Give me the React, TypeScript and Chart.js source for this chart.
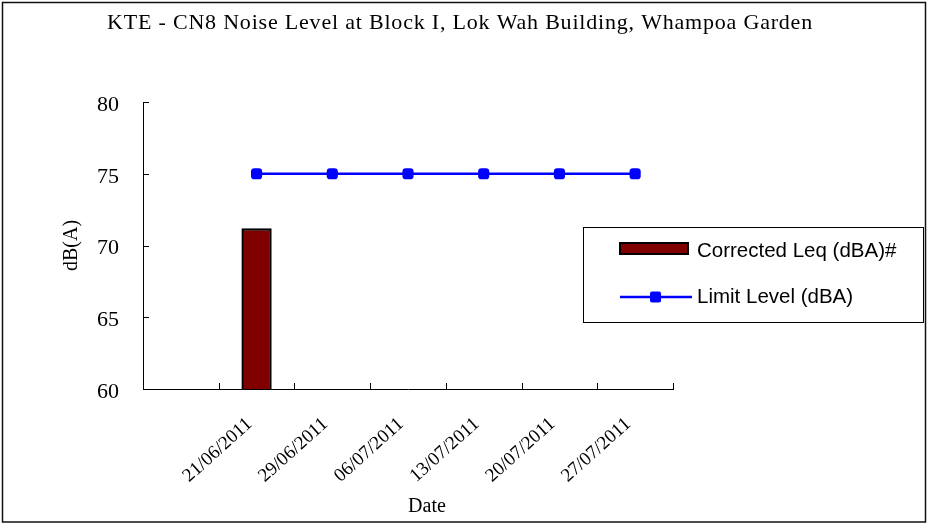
import { useEffect, useRef } from 'react';
import { Chart, registerables } from 'chart.js';

Chart.register(...registerables);

const chartTitle = 'KTE - CN8 Noise Level at Block I, Lok Wah Building, Whampoa Garden';
const categories = ['', '21/06/2011', '29/06/2011', '06/07/2011', '13/07/2011', '20/07/2011', '27/07/2011'];
const correctedLeq: (number | null)[] = [null, 71.2, null, null, null, null, null];
const limitLevel: (number | null)[] = [null, 75, 75, 75, 75, 75, 75];
const yMin = 60;
const yMax = 80;
const yStep = 5;
const yTitle = 'dB(A)';
const xTitle = 'Date';

const SERIF = '"Liberation Serif", "Times New Roman", serif';
const SANS = '"Liberation Sans", Arial, sans-serif';

const decorPlugin = {
  id: 'decor',
  afterDraw(chart: any) {
    const ctx = chart.ctx as CanvasRenderingContext2D;
    const { left, right, bottom } = chart.chartArea;
    const ys = chart.scales.y;
    ctx.save();
    // inside tick marks
    ctx.strokeStyle = '#000';
    ctx.lineWidth = 1;
    ctx.beginPath();
    for (const t of ys.ticks) {
      const y = Math.round(ys.getPixelForValue(t.value)) + 0.5;
      ctx.moveTo(left, y);
      ctx.lineTo(left + 6, y);
    }
    const n = categories.length;
    for (let i = 0; i <= n; i++) {
      const x = Math.round(left + (i * (right - left)) / n) + 0.5;
      ctx.moveTo(x, bottom);
      ctx.lineTo(x, bottom - 6);
    }
    ctx.stroke();

    // chart title
    ctx.fillStyle = '#000';
    ctx.textAlign = 'center';
    ctx.textBaseline = 'alphabetic';
    ctx.font = `22px ${SERIF}`;
    (ctx as any).letterSpacing = '0.8px';
    ctx.fillText(chartTitle, 460, 29);
    // x axis title
    (ctx as any).letterSpacing = '0px';
    ctx.font = `20px ${SERIF}`;
    ctx.fillText(xTitle, 427, 512);

    // legend box
    const ds = chart.data.datasets;
    ctx.lineWidth = 1;
    ctx.strokeStyle = '#000';
    ctx.strokeRect(583.5, 227.5, 340, 95);
    // bar item
    ctx.fillStyle = ds[0].backgroundColor;
    ctx.fillRect(620, 243, 68, 11);
    ctx.lineWidth = 2;
    ctx.strokeStyle = ds[0].borderColor;
    ctx.strokeRect(620, 243, 68, 11);
    // line item
    ctx.strokeStyle = ds[1].borderColor;
    ctx.lineWidth = 2.5;
    ctx.beginPath();
    ctx.moveTo(620, 297);
    ctx.lineTo(692, 297);
    ctx.stroke();
    ctx.fillStyle = ds[1].backgroundColor;
    ctx.beginPath();
    (ctx as any).roundRect(650, 291.5, 11, 11, 2);
    ctx.fill();
    // texts
    ctx.fillStyle = '#000';
    ctx.font = `20.5px ${SANS}`;
    ctx.textBaseline = 'middle';
    ctx.textAlign = 'left';
    ctx.fillText(ds[0].label, 697, 251);
    ctx.fillText(ds[1].label, 697, 297);

    // outer frame
    ctx.lineWidth = 1.5;
    ctx.strokeStyle = '#111';
    ctx.strokeRect(2.5, 2.5, 923, 519.5);
    ctx.restore();
  },
};

export default function App() {
  const ref = useRef<HTMLCanvasElement>(null);
  useEffect(() => {
    document.body.style.margin = '0';
    const canvas = ref.current;
    if (!canvas) return;
    const chart = new Chart(canvas, {
      data: {
        labels: categories,
        datasets: [
          {
            type: 'bar',
            label: 'Corrected Leq (dBA)#',
            data: correctedLeq,
            backgroundColor: '#800000',
            borderColor: '#000000',
            borderWidth: 2.5,
            categoryPercentage: 1,
            barPercentage: 0.4,
            order: 2,
          },
          {
            type: 'line',
            label: 'Limit Level (dBA)',
            data: limitLevel,
            borderColor: '#0000FF',
            backgroundColor: '#0000FF',
            borderWidth: 2.5,
            pointStyle: 'rectRounded',
            pointRadius: 6.5,
            pointBorderWidth: 0,
            spanGaps: false,
            order: 1,
          },
        ] as any,
      },
      plugins: [decorPlugin],
      options: {
        animation: false,
        responsive: false,
        layout: { padding: { left: 60, right: 255, top: 102, bottom: 0 } },
        plugins: {
          legend: { display: false },
          tooltip: { enabled: false },
          title: { display: false },
        },
        scales: {
          x: {
            type: 'category',
            offset: true,
            grid: { display: false },
            border: { display: true, color: '#000', width: 1 },
            ticks: {
              color: '#000',
              font: { family: SERIF, size: 19 },
              minRotation: 42,
              maxRotation: 42,
              autoSkip: false,
              padding: 16,
              labelOffset: -7,
            },
            afterFit: (s: any) => {
              s.height = 136;
            },
          },
          y: {
            min: yMin,
            max: yMax,
            grid: { display: false },
            border: { display: true, color: '#000', width: 1 },
            ticks: {
              stepSize: yStep,
              color: '#000',
              font: { family: SERIF, size: 22 },
              padding: 16,
              labelOffset: 3,
            },
            title: {
              display: true,
              text: yTitle,
              color: '#000',
              font: { family: SERIF, size: 20 },
              padding: { top: 0, bottom: 0 },
            },
            afterFit: (s: any) => {
              s.width = 83;
            },
          },
        },
      } as any,
    });
    return () => chart.destroy();
  }, []);
  return <canvas ref={ref} width={928} height={525} style={{ display: 'block' }} />;
}
